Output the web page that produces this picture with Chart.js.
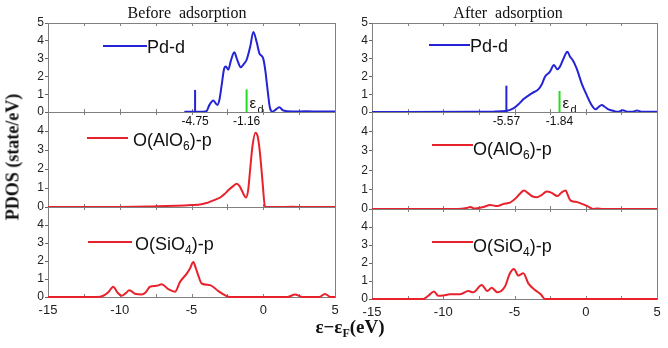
<!DOCTYPE html>
<html>
<head>
<meta charset="utf-8">
<script src="https://cdn.jsdelivr.net/npm/chart.js@4.4.1/dist/chart.umd.min.js"></script>
<style>
  body { margin: 0; background: #fff; }
  #wrap { position: relative; width: 668px; height: 348px; overflow: hidden; }
  #wrap canvas { position: absolute; left: 0; top: 0; }
  .lbl { position: absolute; white-space: nowrap; color: #111; line-height: 1; }
  .ttl { font: 16px 'Liberation Serif', serif; word-spacing: 4px; transform: translateX(-50%); top: 4px; }
  .axt { font: bold 18px 'Liberation Serif', serif; }
  .axt sub { font-size: 12px; vertical-align: -4px; }
</style>
</head>
<body>
<div id="wrap">
  <canvas id="c0" width="668" height="348"></canvas>
  <canvas id="c1" width="668" height="348"></canvas>
  <canvas id="c2" width="668" height="348"></canvas>
  <canvas id="c3" width="668" height="348"></canvas>
  <canvas id="c4" width="668" height="348"></canvas>
  <canvas id="c5" width="668" height="348"></canvas>
  <div class="lbl ttl" style="left:187px">Before adsorption</div>
  <div class="lbl ttl" style="left:508px">After adsorption</div>
  <div class="lbl axt" style="left:13px; top:157px; transform:translate(-50%,-50%) rotate(-90deg)">PDOS (state/eV)</div>
  <div class="lbl axt" style="left:350px; top:328px; font-size:19px; transform:translate(-50%,-50%)">ε−ε<sub>F</sub>(eV)</div>
</div>
<script>
// PDOS curves, energy in eV relative to E_F
const pdBeforeE   = [-5.5, -4.5, -4.2, -3.95, -3.75, -3.48, -3.2, -3.05, -2.9, -2.72, -2.6, -2.44, -2.25, -2.02, -1.8, -1.57, -1.35, -1.15, -0.9, -0.69, -0.45, -0.27, 0.0, 0.15, 0.28, 0.47, 0.65, 0.85, 1.12, 1.4, 2.0, 3.0, 4.0, 5.0];
const pdBeforeDos = [0.02, 0.02, 0.02, 0.05, 0.4, 0.65, 0.4, 0.7, 1.5, 2.45, 2.55, 2.38, 2.9, 3.35, 2.9, 2.52, 2.7, 2.95, 3.7, 4.5, 3.9, 3.3, 3.0, 2.3, 1.4, 0.22, 0.02, 0.12, 0.26, 0.08, 0.03, 0.04, 0.03, 0.03];

const alBeforeE   = [-15, -10, -8, -7.4, -6, -5, -4.3, -3.9, -3.7, -3.3, -3.0, -2.7, -2.44, -2.1, -1.85, -1.65, -1.5, -1.2, -1.05, -0.92, -0.75, -0.55, -0.4, -0.27, -0.15, -0.04, 0.12, 0.3, 1, 2, 3, 4, 5];
const alBeforeDos = [0, 0, 0.02, 0.04, 0.06, 0.1, 0.15, 0.22, 0.28, 0.4, 0.5, 0.68, 0.88, 1.1, 1.23, 1.1, 0.88, 0.5, 0.9, 1.92, 3.2, 3.91, 3.75, 3.13, 2.2, 1.23, 0.02, 0, 0, 0.01, 0, 0, 0];

const siBeforeE   = [-15, -11.6, -11.15, -10.8, -10.45, -10.17, -9.87, -9.6, -9.33, -8.94, -8.47, -8.2, -7.89, -7.43, -7.08, -6.62, -6.15, -5.8, -5.33, -5.1, -4.87, -4.7, -4.53, -4.29, -3.71, -3.13, -2.67, -2.32, 1.7, 2.21, 2.7, 3.9, 4.3, 4.7, 5];
const siBeforeDos = [0, 0, 0.07, 0.26, 0.57, 0.26, 0.07, 0.2, 0.37, 0.18, 0.14, 0.25, 0.57, 0.62, 0.71, 0.44, 0.29, 0.84, 1.3, 1.6, 1.94, 1.6, 1.2, 0.75, 0.66, 0.33, 0.1, 0, 0, 0.14, 0, 0, 0.16, 0, 0];

const pdAfterE   = [-15, -8, -6.5, -5.6, -5.08, -4.7, -4.38, -3.79, -3.33, -3.09, -2.86, -2.51, -2.23, -2.0, -1.81, -1.58, -1.29, -1.1, -0.92, -0.64, -0.29, 0.06, 0.41, 0.7, 0.9, 1.12, 1.35, 1.59, 2.0, 2.3, 2.6, 2.9, 3.3, 3.6, 3.9, 4.5, 5];
const pdAfterDos = [0, 0.01, 0.02, 0.05, 0.2, 0.45, 0.71, 1.05, 1.27, 1.55, 1.98, 2.27, 2.64, 2.4, 2.55, 2.96, 3.39, 3.1, 2.92, 2.45, 1.61, 0.96, 0.39, 0.15, 0.28, 0.39, 0.28, 0.15, 0.05, 0.02, 0.1, 0.02, 0.02, 0.08, 0.02, 0.02, 0.02];

const alAfterE   = [-15, -9, -8.36, -8.1, -7.8, -7.2, -6.7, -6.2, -5.8, -5.5, -5.32, -4.85, -4.6, -4.33, -4.05, -3.79, -3.44, -3.1, -2.74, -2.39, -1.99, -1.7, -1.41, -1.25, -1.06, -0.7, -0.4, 0.18, 0.5, 0.8, 1.2, 5];
const alAfterDos = [0, 0, 0.05, 0.1, 0.02, 0.1, 0.2, 0.15, 0.25, 0.3, 0.33, 0.6, 0.8, 0.95, 0.82, 0.67, 0.6, 0.72, 0.9, 0.83, 0.67, 0.85, 0.95, 0.7, 0.43, 0.37, 0.3, 0.12, 0, 0.03, 0, 0];

const siAfterE   = [-15, -11.4, -11.05, -10.65, -10.35, -10.0, -9.53, -8.82, -8.24, -7.89, -7.3, -6.9, -6.6, -6.2, -5.67, -5.32, -5.04, -4.73, -4.38, -4.03, -3.56, -3.16, -2.86, 5];
const siAfterDos = [0, 0, 0.18, 0.41, 0.18, 0.2, 0.26, 0.26, 0.44, 0.37, 0.78, 0.44, 0.63, 0.37, 0.69, 1.43, 1.67, 1.3, 1.43, 0.87, 0.5, 0.26, 0, 0];

// band-edge (blue) and d-band centre (green) markers on the Pd-d panels
const edgeBefore = -4.75, centreBefore = -1.16;
const edgeAfter = -5.57, centreAfter = -1.84;
const markHBefore = [1.24, 1.27];
const markHAfter = [1.48, 1.18];

const xTicks = [-15, -10, -5, 0, 5];
const yTicks = [0, 1, 2, 3, 4, 5];

const BLUE = '#2424d6', RED = '#e8222c', GREEN = '#22dd22';
const YW = 30, XH = 24;

function pts(e, d) { return e.map((x, i) => ({ x: x, y: d[i] })); }
function vline(x, h) { return [{ x: x, y: 0 }, { x: x, y: h }]; }

// box = [left, top, right, bottom] of the plot area
const panels = [
  { id: 'c0', box: [48, 23, 335, 112], e: pdBeforeE, d: pdBeforeDos, color: BLUE, top: true,
    leg: { x1: 103, x2: 147, ly: 46, tx: 147, ty: 53, parts: [['Pd-d', 0]] },
    marks: { edge: edgeBefore, centre: centreBefore, h: markHBefore } },
  { id: 'c1', box: [48, 112, 335, 207], e: alBeforeE, d: alBeforeDos, color: RED,
    leg: { x1: 87, x2: 128, ly: 138, tx: 133, ty: 146, parts: [['O(AlO', 0], ['6', 1], [')-p', 0]] } },
  { id: 'c2', box: [48, 207, 335, 297], e: siBeforeE, d: siBeforeDos, color: RED, bottom: true,
    leg: { x1: 88, x2: 132, ly: 242, tx: 135, ty: 250, parts: [['O(SiO', 0], ['4', 1], [')-p', 0]] } },
  { id: 'c3', box: [372, 23, 657, 112], e: pdAfterE, d: pdAfterDos, color: BLUE, top: true,
    leg: { x1: 429, x2: 470, ly: 45, tx: 470, ty: 52, parts: [['Pd-d', 0]] },
    marks: { edge: edgeAfter, centre: centreAfter, h: markHAfter } },
  { id: 'c4', box: [372, 112, 657, 209], e: alAfterE, d: alAfterDos, color: RED,
    leg: { x1: 432, x2: 473, ly: 145, tx: 473, ty: 155, parts: [['O(AlO', 0], ['6', 1], [')-p', 0]] } },
  { id: 'c5', box: [372, 209, 657, 299], e: siAfterE, d: siAfterDos, color: RED, bottom: true,
    leg: { x1: 432, x2: 473, ly: 242, tx: 473, ty: 252, parts: [['O(SiO', 0], ['4', 1], [')-p', 0]] } }
];

// frame with inward ticks every 2.5 eV, drawn under the curves
const framePlugin = {
  id: 'frame',
  beforeDatasetsDraw(chart) {
    const a = chart.chartArea, ctx = chart.ctx, xs = chart.scales.x;
    ctx.save();
    ctx.strokeStyle = '#808080';
    ctx.lineWidth = 1;
    ctx.strokeRect(Math.round(a.left) + 0.5, Math.round(a.top) + 0.5,
      Math.round(a.right - a.left), Math.round(a.bottom - a.top));
    ctx.beginPath();
    for (let v = -15; v <= 5; v += 2.5) {
      const px = Math.round(xs.getPixelForValue(v)) + 0.5;
      ctx.moveTo(px, a.top); ctx.lineTo(px, a.top + 3);
      ctx.moveTo(px, a.bottom); ctx.lineTo(px, a.bottom - 3);
    }
    ctx.stroke();
    ctx.restore();
  }
};

// line sample + label with subscripts
const legendPlugin = {
  id: 'legendLine',
  afterDraw(chart, args, opts) {
    const L = opts.leg, ctx = chart.ctx;
    if (!L) return;
    ctx.save();
    ctx.strokeStyle = opts.color;
    ctx.lineWidth = 2;
    ctx.beginPath();
    ctx.moveTo(L.x1, L.ly); ctx.lineTo(L.x2, L.ly);
    ctx.stroke();
    ctx.fillStyle = '#111';
    ctx.textBaseline = 'alphabetic';
    let x = L.tx;
    L.parts.forEach(([s, sub]) => {
      ctx.font = sub ? '12px "Liberation Sans"' : '18px "Liberation Sans"';
      ctx.fillText(s, x, L.ty + (sub ? 4 : 0));
      x += ctx.measureText(s).width;
    });
    ctx.restore();
  }
};

// energy values under the marker lines and the ε_d tag
const markLabelPlugin = {
  id: 'markLabels',
  afterDraw(chart, args, opts) {
    const m = opts.marks;
    if (!m) return;
    const ctx = chart.ctx, xs = chart.scales.x, a = chart.chartArea;
    ctx.save();
    ctx.fillStyle = '#111';
    ctx.font = '12px "Liberation Sans"';
    ctx.textAlign = 'center';
    ctx.textBaseline = 'alphabetic';
    ctx.fillText(m.edge.toFixed(2), xs.getPixelForValue(m.edge), a.bottom + 13);
    ctx.fillText(m.centre.toFixed(2), xs.getPixelForValue(m.centre), a.bottom + 13);
    const gx = xs.getPixelForValue(m.centre);
    ctx.textAlign = 'left';
    ctx.font = '15px "Liberation Sans"';
    ctx.fillText('ε', gx + 3, a.bottom - 4);
    ctx.font = '11px "Liberation Sans"';
    ctx.fillText('d', gx + 11, a.bottom + 1);
    ctx.restore();
  }
};

panels.forEach(p => {
  const datasets = [{
    data: pts(p.e, p.d), borderColor: p.color, borderWidth: 2,
    pointRadius: 0, cubicInterpolationMode: 'monotone', clip: false
  }];
  if (p.marks) {
    datasets.push({ data: vline(p.marks.edge, p.marks.h[0]), borderColor: BLUE, borderWidth: 2, pointRadius: 0, clip: false });
    datasets.push({ data: vline(p.marks.centre, p.marks.h[1]), borderColor: GREEN, borderWidth: 2, pointRadius: 0, clip: false });
  }
  const b = p.box;
  new Chart(document.getElementById(p.id), {
    type: 'line',
    data: { datasets: datasets },
    plugins: [framePlugin, legendPlugin, markLabelPlugin],
    options: {
      responsive: false,
      animation: false,
      devicePixelRatio: 1,
      layout: { padding: { left: b[0] - YW, top: b[1], right: 668 - b[2], bottom: 348 - b[3] - (p.bottom ? XH : 0) } },
      plugins: {
        legend: { display: false },
        tooltip: { enabled: false },
        legendLine: { leg: p.leg, color: p.color },
        markLabels: { marks: p.marks || null }
      },
      scales: {
        x: {
          type: 'linear', min: -15, max: 5, display: !!p.bottom,
          afterFit: s => { if (p.bottom) s.height = XH; },
          afterBuildTicks: s => { s.ticks = xTicks.map(v => ({ value: v })); },
          grid: { display: false, drawTicks: false }, border: { display: false },
          ticks: { font: { family: 'Liberation Sans', size: 13 }, color: '#222', padding: 6, maxRotation: 0, autoSkip: false }
        },
        y: {
          type: 'linear', min: 0, max: 5,
          afterFit: s => { s.width = YW; },
          afterBuildTicks: s => { s.ticks = yTicks.map(v => ({ value: v })); },
          grid: { display: true, drawOnChartArea: false, drawTicks: true, tickLength: 3, color: '#666' },
          border: { display: false },
          ticks: {
            font: { family: 'Liberation Sans', size: 12 }, color: '#222', padding: 1, autoSkip: false,
            callback: v => (v === 5 && !p.top) ? '' : v
          }
        }
      }
    }
  });
});
</script>
</body>
</html>
